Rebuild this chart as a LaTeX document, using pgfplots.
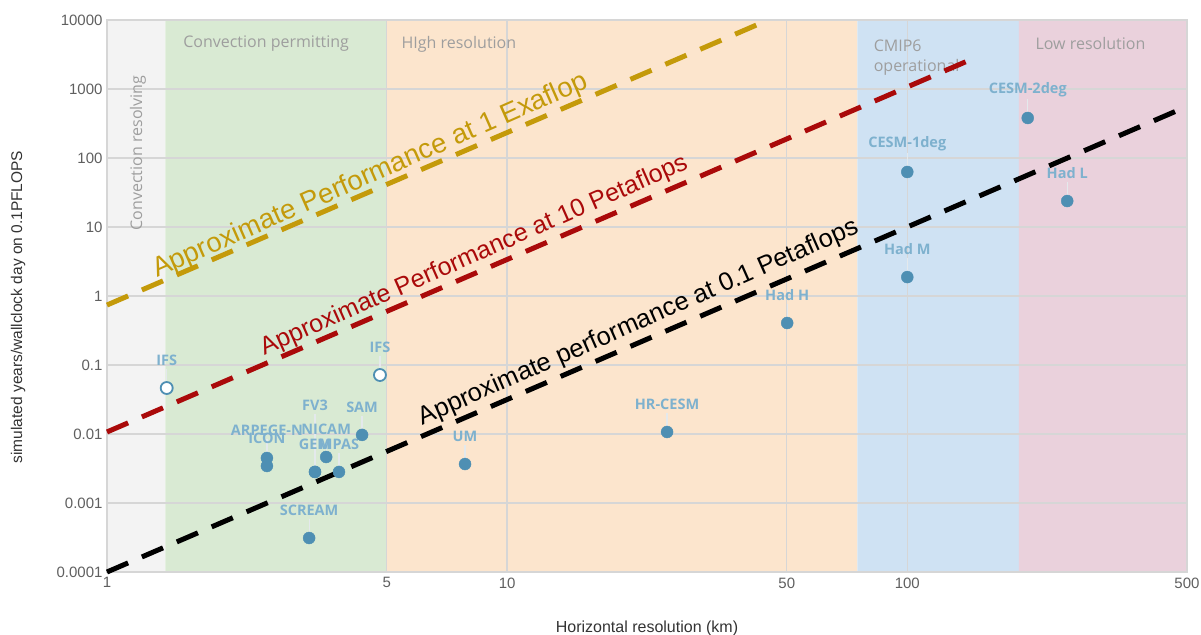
\documentclass[border=0pt]{standalone}
\usepackage{pgfplots}
\pgfplotsset{compat=1.18}
\usepackage{fontspec}
\setmainfont{Open Sans}
\newfontfamily\arialfont{Liberation Sans}

\definecolor{bandgray}{HTML}{F3F3F3}
\definecolor{bandgreen}{HTML}{D9EAD3}
\definecolor{bandorange}{HTML}{FCE5CD}
\definecolor{bandblue}{HTML}{CFE2F3}
\definecolor{bandpink}{HTML}{EAD1DC}
\definecolor{gridgray}{HTML}{D6D6D6}
\definecolor{bandtext}{HTML}{9E9E9E}
\definecolor{ticktext}{HTML}{5F5F5F}
\definecolor{ptblue}{HTML}{4E8FB3}
\definecolor{ptlabel}{HTML}{7EB1CE}
\definecolor{leadergray}{HTML}{E4E9EC}
\definecolor{exagold}{HTML}{C49A0A}
\definecolor{petared}{HTML}{AA0A0A}

\tikzset{bandtitle/.style={text=bandtext, font=\fontsize{16}{20}\selectfont}}

% model runs: error column gives the length of the label leader (relative)
\pgfplotsset{modelrun/.style={
  only marks, mark=*, mark size=6pt, ptblue,
  point meta=explicit symbolic,
  nodes near coords,
  every node near coord/.append style={anchor=center, yshift=#1, inner sep=1pt,
    text=ptlabel, font=\fontsize{14.5}{16}\selectfont\bfseries},
  error bars/y dir=plus,
  error bars/y explicit relative,
  error bars/error mark=none,
  error bars/error bar style={draw=leadergray, line width=1.2pt},
}}

\pgfplotstableread[col sep=comma, row sep=\\]{
x,y,label,err\\
2.51,0.00449,ARPEGE-N,0.886\\
2.51,0.00344,ICON,0.886\\
3.31,0.00282,GEM,0.886\\
3.53,0.00464,NICAM,0.886\\
3.80,0.00282,MPAS,0.886\\
4.34,0.0097,SAM,0.886\\
3.20,0.000311,SCREAM,0.886\\
7.85,0.00367,UM,0.886\\
25.1,0.0107,HR-CESM,0.886\\
50.1,0.406,Had H,0.886\\
100,62.7,CESM-1deg,0.886\\
100,1.88,Had M,0.886\\
200,380,CESM-2deg,0.886\\
251,23.8,Had L,0.886\\
}\runstable

\pgfplotstableread[col sep=comma, row sep=\\]{
x,y,label,err\\
3.31,0.00282,FV3,5.93\\
}\fvstable

\pgfplotstableread[col sep=comma, row sep=\\]{
x,y,label,err\\
1.41,0.0464,IFS,0.886\\
4.81,0.0716,IFS,0.886\\
}\ifstable

\begin{document}
\begin{tikzpicture}
\begin{axis}[
  set layers,
  xmode=log, ymode=log,
  scale only axis, width=1080pt, height=552pt,
  xmin=1, xmax=500, ymin=1e-4, ymax=1e4,
  xtick={1,5,10,50,100,500},
  xticklabels={1,5,10,50,100,500},
  ytick={1e-4,1e-3,1e-2,1e-1,1,10,100,1000,10000},
  yticklabels={0.0001,0.001,0.01,0.1,1,10,100,1000,10000},
  grid=major,
  major grid style={draw=gridgray, line width=1.3pt},
  tick style={draw=none},
  axis line style={draw=gridgray, line width=1.3pt},
  ticklabel style={font=\arialfont\fontsize{15}{17}\selectfont, text=ticktext},
  xticklabel style={yshift=-2pt},
  yticklabel style={xshift=-1pt},
  clip=false,
]
% resolution bands
\addplot[on layer=axis background, fill=bandgray, draw=none]
  coordinates {(1,1e-4) (1.4,1e-4) (1.4,1e4) (1,1e4) (1,1e-4)};
\addplot[on layer=axis background, fill=bandgreen, draw=none]
  coordinates {(1.4,1e-4) (5,1e-4) (5,1e4) (1.4,1e4) (1.4,1e-4)};
\addplot[on layer=axis background, fill=bandorange, draw=none]
  coordinates {(5,1e-4) (75,1e-4) (75,1e4) (5,1e4) (5,1e-4)};
\addplot[on layer=axis background, fill=bandblue, draw=none]
  coordinates {(75,1e-4) (190,1e-4) (190,1e4) (75,1e4) (75,1e-4)};
\addplot[on layer=axis background, fill=bandpink, draw=none]
  coordinates {(190,1e-4) (500,1e-4) (500,1e4) (190,1e4) (190,1e-4)};

% band titles
\node[bandtitle, rotate=90, anchor=east] at (axis cs:1.195,1760) {Convection resolving};
\node[bandtitle, anchor=west] at (axis cs:1.52,4490) {Convection permitting};
\node[bandtitle, anchor=west] at (axis cs:5.34,4490) {HIgh resolution};
\node[bandtitle, anchor=west, align=left] at (axis cs:80.8,2810) {CMIP6\\operational};
\node[bandtitle, anchor=west] at (axis cs:205,4490) {Low resolution};

% performance lines (slope 2.5 in log-log)
\addplot[exagold, line width=5pt, dash pattern=on 23pt off 15pt]
  coordinates {(1,0.74) (43,8972)};
\addplot[petared, line width=5pt, dash pattern=on 23pt off 15pt]
  coordinates {(1,0.0107) (142,2571)};
\addplot[black, line width=5pt, dash pattern=on 23pt off 15pt]
  coordinates {(1,0.0001) (500,559)};

\node[rotate=23.8, text=exagold, font=\arialfont\fontsize{27.5}{30}\selectfont]
  at (axis cs:4.55,54.8) {Approximate Performance at 1 Exaflop};
\node[rotate=23.8, text=petared, font=\arialfont\fontsize{25}{28}\selectfont]
  at (axis cs:8.27,3.8) {Approximate Performance at 10 Petaflops};
\node[rotate=23.8, text=black, font=\arialfont\fontsize{25.5}{28}\selectfont]
  at (axis cs:21.3,0.406) {Approximate performance at 0.1 Petaflops};

% model runs
\addplot[modelrun=67pt, mark options={fill=ptblue}]
  table[x=x, y=y, meta=label, y error=err] {\fvstable};
\addplot[modelrun=28pt, mark options={fill=ptblue}]
  table[x=x, y=y, meta=label, y error=err] {\runstable};
\addplot[modelrun=28pt, mark options={fill=white, line width=1.8pt}]
  table[x=x, y=y, meta=label, y error=err] {\ifstable};
\end{axis}

% axis titles
\node[rotate=90, text=black!80, font=\arialfont\fontsize{15.5}{18}\selectfont]
  at (-89pt,265pt) {simulated years/wallclock day on 0.1PFLOPS};
\node[text=black!80, font=\arialfont\fontsize{16}{18}\selectfont]
  at (540pt,-56pt) {Horizontal resolution (km)};

% canvas
\pgfresetboundingbox
\path[use as bounding box] (-107pt,-62pt) rectangle (1094pt,572pt);
\end{tikzpicture}
\end{document}
